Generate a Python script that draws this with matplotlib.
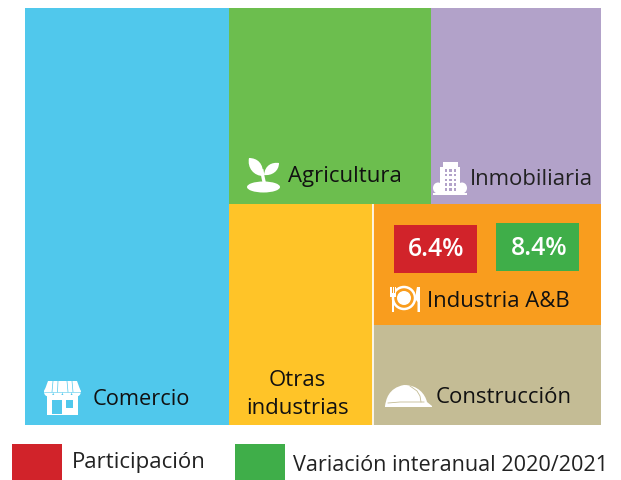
import matplotlib
matplotlib.use('Agg')
import matplotlib.pyplot as plt
from matplotlib.patches import Rectangle, Circle, Ellipse, Polygon, PathPatch, Wedge
from matplotlib.path import Path

plt.rcParams['font.family'] = ['Open Sans', 'DejaVu Sans']

sectors = ['Comercio', 'Agricultura', 'Inmobiliaria', 'Otras\nindustrias', 'Industria A&B', 'Construcción']
shares = [35.4, 16.5, 13.9, 13.2, 11.5, 9.5]
colors = ['#50C8EC', '#6CBE4E', '#B2A2C9', '#FFC428', '#F99D1E', '#C4BC95']
participacion = '6.4%'
variacion = '8.4%'
legend_labels = ['Participación', 'Variación interanual 2020/2021']
legend_colors = ['#D1232A', '#3FAE49']

# treemap area, in picture pixels
X0, X1, Y0, Y1 = 25, 601, 8, 425

W = X1 - X0
H = Y1 - Y0
total = sum(shares)


def layout():
    # comercio takes a full column, the rest splits in rows
    rects = {}
    w0 = W * shares[0] / total
    rects[0] = (X0, Y0, w0, H)
    rest = total - shares[0]
    x_rest = X0 + w0
    w_rest = W - w0
    top = shares[1] + shares[2]
    h_top = H * top / rest
    w1 = w_rest * shares[1] / top
    rects[1] = (x_rest, Y0, w1, h_top)
    rects[2] = (x_rest + w1, Y0, w_rest - w1, h_top)
    low = rest - top
    h_low = H - h_top
    w3 = w_rest * shares[3] / low
    rects[3] = (x_rest, Y0 + h_top, w3, h_low)
    right = shares[4] + shares[5]
    h4 = h_low * shares[4] / right
    rects[4] = (x_rest + w3, Y0 + h_top, w_rest - w3, h4)
    rects[5] = (x_rest + w3, Y0 + h_top + h4, w_rest - w3, h_low - h4)
    return rects


fig = plt.figure(figsize=(6.21, 4.81), dpi=100)
ax = fig.add_axes([0, 0, 1, 1])
ax.set_xlim(0, 621)
ax.set_ylim(480, -1)
ax.axis('off')

rects = layout()
for i, (x, y, w, h) in rects.items():
    ax.add_patch(Rectangle((x, y), w, h, fc=colors[i], ec='none'))

# thin white divider
x_div = rects[4][0]
ax.plot([x_div, x_div], [rects[4][1], Y1], color='white', lw=1.2, solid_capstyle='butt')

fs = 15.9
ax.text(93, 399, sectors[0], fontsize=15.7, ha='left', va='center', color='#111111')
ax.text(288, 176, sectors[1], fontsize=fs, ha='left', va='center', color='#111111')
ax.text(470, 178.5, sectors[2], fontsize=fs, ha='left', va='center', color='#222222')
ax.text(297.5, 393.5, sectors[3], fontsize=fs, ha='center', va='center', color='#111111', linespacing=1.45)
ax.text(427, 301, sectors[4], fontsize=fs, ha='left', va='center', color='#111111')
ax.text(436, 396.5, sectors[5], fontsize=fs, ha='left', va='center', color='#111111')

# value boxes
ax.add_patch(Rectangle((394, 225), 83, 48, fc=legend_colors[0], ec='none'))
ax.add_patch(Rectangle((496, 223), 83, 48, fc=legend_colors[1], ec='none'))
ax.text(436, 249, participacion, fontsize=17.8, fontweight='semibold', color='white', ha='center', va='center')
ax.text(539, 247.5, variacion, fontsize=17.8, fontweight='semibold', color='white', ha='center', va='center')

# legend
ax.add_patch(Rectangle((12, 444), 50, 37, fc=legend_colors[0], ec='none'))
ax.add_patch(Rectangle((235, 444), 50, 37, fc=legend_colors[1], ec='none'))
ax.text(72, 462, legend_labels[0], fontsize=16, ha='left', va='center', color='#222222')
ax.text(293, 465, legend_labels[1], fontsize=15.6, ha='left', va='center', color='#222222')

# store icon
ax.add_patch(Rectangle((47, 395), 31, 20, fc='white', ec='none'))
ax.add_patch(Polygon([(48, 381), (77, 381), (81, 392), (44, 392)], fc='white', ec='none'))
for cx in [48.6, 57.8, 67, 76.2]:
    ax.add_patch(Wedge((cx, 392), 4.6, 0, 180, fc='white', ec='none'))
    ax.add_patch(Wedge((cx, 392), 4.6, 180, 360, fc='white', ec='none'))
for xa, xb in [(53, 52), (58, 57.5), (67, 68), (72, 73)]:
    ax.plot([xa, xb], [381, 392], color=colors[0], lw=0.5)
ax.plot([44, 81], [392.3, 392.3], color=colors[0], lw=0.4)
ax.add_patch(Rectangle((52, 400), 10, 14, fc=colors[0], ec='none'))
ax.add_patch(Rectangle((66, 400), 7, 8, fc=colors[0], ec='none'))

# plant icon
ax.add_patch(Ellipse((263.5, 187), 33, 11, fc='white', ec='none'))
ax.plot([264.5, 263, 262], [184, 177, 171], color='white', lw=2.4)
leaf_l = Path([(263, 176), (264, 163), (257, 158), (249, 158), (247, 168), (254, 176), (263, 176)],
              [Path.MOVETO, Path.CURVE4, Path.CURVE4, Path.CURVE4, Path.CURVE4, Path.CURVE4, Path.CURVE4])
leaf_r = Path([(264, 175), (265, 165), (272, 162), (279, 163), (279, 171), (272, 176), (264, 175)],
              [Path.MOVETO, Path.CURVE4, Path.CURVE4, Path.CURVE4, Path.CURVE4, Path.CURVE4, Path.CURVE4])
ax.add_patch(PathPatch(leaf_l, fc='white', ec='none'))
ax.add_patch(PathPatch(leaf_r, fc='white', ec='none'))

# building icon
ax.add_patch(Rectangle((440, 167), 20, 27, fc='white', ec='none'))
ax.add_patch(Rectangle((443, 162), 15, 6, fc='white', ec='none'))
for row in range(5):
    for col in range(3):
        ax.add_patch(Rectangle((445 + col * 4.4, 169 + row * 4.8), 2.4, 2.6, fc=colors[2], ec='none'))
ax.add_patch(Ellipse((438, 188), 10, 11, fc='white', ec='none'))
ax.add_patch(Ellipse((462, 188), 10, 11, fc='white', ec='none'))
ax.add_patch(Rectangle((433, 193), 34, 2, fc='white', ec='none'))

# plate icon
ax.add_patch(Circle((404, 298), 11, fc='none', ec='white', lw=1.8))
ax.add_patch(Circle((404, 298), 7, fc='white', ec='none'))
ax.add_patch(Rectangle((392, 297), 2.2, 15, fc='white', ec='none'))
ax.add_patch(Rectangle((390, 287), 6.4, 10, fc='white', ec='none'))
ax.add_patch(Rectangle((391.8, 287), 0.7, 6, fc=colors[4], ec='none'))
ax.add_patch(Rectangle((393.9, 287), 0.7, 6, fc=colors[4], ec='none'))
knife = [(417, 287), (420, 287), (420, 312), (417.5, 312), (417.5, 302), (416, 300), (416, 292)]
ax.add_patch(Polygon(knife, fc='white', ec='none'))

# hard hat icon
hat = Path([(385, 406), (386, 400), (388, 388), (404, 385), (418, 385), (425, 394), (427, 402),
            (432, 406), (432, 407), (385, 407), (385, 406)],
           [Path.MOVETO, Path.CURVE4, Path.CURVE4, Path.CURVE4, Path.CURVE4, Path.CURVE4, Path.CURVE4,
            Path.LINETO, Path.LINETO, Path.LINETO, Path.CLOSEPOLY])
ax.add_patch(PathPatch(hat, fc='white', ec='none'))
ax.plot([388, 400, 424], [403, 402, 402], color=colors[5], lw=0.6)
ax.plot([410, 417, 420, 421], [386, 391, 396, 402], color=colors[5], lw=0.6)

fig.savefig('out.png', dpi=100)
